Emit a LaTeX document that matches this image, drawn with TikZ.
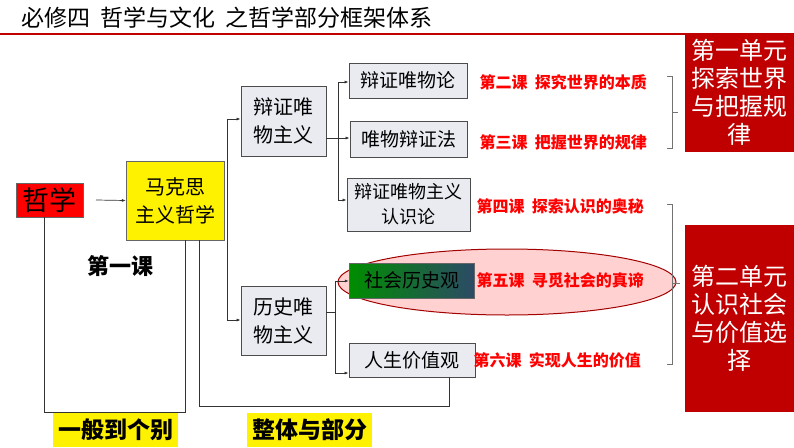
\documentclass[tikz,border=0pt]{standalone}
\usepackage{fontspec}
\setmainfont{Noto Sans CJK SC}
\usetikzlibrary{arrows.meta}
\definecolor{dred}{HTML}{C00000}
\definecolor{gbox}{HTML}{E9EBF1}
\definecolor{navy}{HTML}{2C4A66}
\tikzset{
 gb/.style={draw=black!70,fill=gbox,line width=0.8pt,inner sep=0pt,align=center},
 ln/.style={draw=black!80,line width=0.7pt},
 br/.style={draw=black!55,line width=0.7pt},
 les/.style={text=red,font=\fontsize{16}{18}\selectfont\bfseries,anchor=west},
 unit/.style={fill=dred,text=white,align=center,inner sep=0pt,font=\fontsize{24}{28}\selectfont},
 yl/.style={fill=yellow,inner sep=0pt,font=\fontsize{23}{26}\selectfont\bfseries},
}
\begin{document}
\begin{tikzpicture}[x=1pt,y=-1pt]
\useasboundingbox[fill=white] (0,0) rectangle (794,447);
\node[anchor=west,font=\fontsize{23}{26}\selectfont] (title) at (18,18) {必修四\hspace{10pt}哲学与文化\hspace{10pt}之哲学部分框架体系};
\draw[dred,line width=2.5pt] (0,34) -- (794,34);
\draw[fill=red!18,draw=dred!85!black,line width=1pt] (507,282) ellipse [x radius=169,y radius=33];
\node[draw=black!60,fill=red,minimum width=67,minimum height=34,inner sep=0pt,font=\fontsize{27}{30}\selectfont] (zx) at (49.5,200) {哲学};
\node[draw=black!60,fill=yellow,minimum width=98,minimum height=79,inner sep=0pt,align=center,font=\fontsize{20}{28}\selectfont] (mk) at (175,200.5) {马克思\\主义哲学};
\node[gb,minimum width=85,minimum height=70,font=\fontsize{20}{28}\selectfont] (bz) at (283.5,121) {辩证唯\\物主义};
\node[gb,minimum width=85,minimum height=69,font=\fontsize{20}{28}\selectfont] (ls) at (283.5,320.5) {历史唯\\物主义};
\node[gb,minimum width=118,minimum height=35,font=\fontsize{19}{21}\selectfont] (b1) at (408,80.5) {辩证唯物论};
\node[gb,minimum width=117,minimum height=36,font=\fontsize{19}{21}\selectfont] (b2) at (408.5,139) {唯物辩证法};
\node[gb,minimum width=123,minimum height=53,font=\fontsize{18}{25}\selectfont] (b3) at (408.5,204.5) {辩证唯物主义\\认识论};
\node[draw=black!60,left color=green!55!black,right color=navy,minimum width=125,minimum height=35,inner sep=0pt,font=\fontsize{19}{21}\selectfont] (s1) at (411.5,280.5) {社会历史观};
\node[gb,minimum width=126,minimum height=34,font=\fontsize{19}{21}\selectfont] (s2) at (412,360) {人生价值观};
\coordinate (za) at (96,200);
\draw[ln,-{Latex[length=4pt,width=3pt]}] (za) -- (mk.west);
\draw[ln] (227,119) -- (227,320);
\draw[ln,-{Latex[length=4pt,width=3pt]}] (227,119) -- (bz.west |- 0,119);
\draw[ln,-{Latex[length=4pt,width=3pt]}] (227,320) -- (ls.west |- 0,320);
\draw[ln] (bz.east |- 0,138) -- (338,138);
\draw[ln] (338,82) -- (338,200);
\foreach \n/\yy in {b1/82,b2/138,b3/200}{\draw[ln,-{Latex[length=4pt,width=3pt]}] (338,\yy) -- (\n.west |- 0,\yy);}
\draw[ln] (ls.east |- 0,312) -- (335,312);
\draw[ln] (335,281) -- (335,373);
\draw[ln,-{Latex[length=4pt,width=3pt]}] (335,281) -- (s1.west |- 0,281);
\draw[ln,-{Latex[length=4pt,width=3pt]}] (335,373) -- (s2.west |- 0,373);
\draw[ln] (zx.south -| 44,0) -- (44,412) -- (185,412) -- (mk.south -| 185,0);
\draw[ln] (mk.south -| 199,0) -- (199,406) -- (449,406) -- (s2.south -| 449,0);
\node[les] (l2) at (476,82) {第二课\ \ 探究世界的本质};
\node[les] (l3) at (476,142) {第三课\ \ 把握世界的规律};
\node[les] (l4) at (473,206) {第四课\ \ 探索认识的奥秘};
\node[les] (l5) at (473,280) {第五课\ \ 寻觅社会的真谛};
\node[les] (l6) at (470,360) {第六课\ \ 实现人生的价值};
\draw[br] (667,76) -- (672,76) -- (672,148) -- (667,148);
\draw[br] (672,112) -- (678,112);
\draw[br] (667,204) -- (672,204) -- (672,364) -- (667,364);
\draw[br] (672,283) -- (680,283);
\node[unit,minimum width=109,minimum height=119] (u1) at (739.5,92.5) {第一单元\\探索世界\\与把握规\\律};
\node[unit,minimum width=109,minimum height=187] (u2) at (739.5,318.5) {第二单元\\认识社会\\与价值选\\择};
\node[font=\fontsize{22}{24}\selectfont\bfseries] (k1) at (120,266) {第一课};
\node[yl,minimum width=125,minimum height=34] (y1) at (115.5,430) {一般到个别};
\node[yl,minimum width=125,minimum height=34] (y2) at (309.5,430) {整体与部分};
\end{tikzpicture}
\end{document}
